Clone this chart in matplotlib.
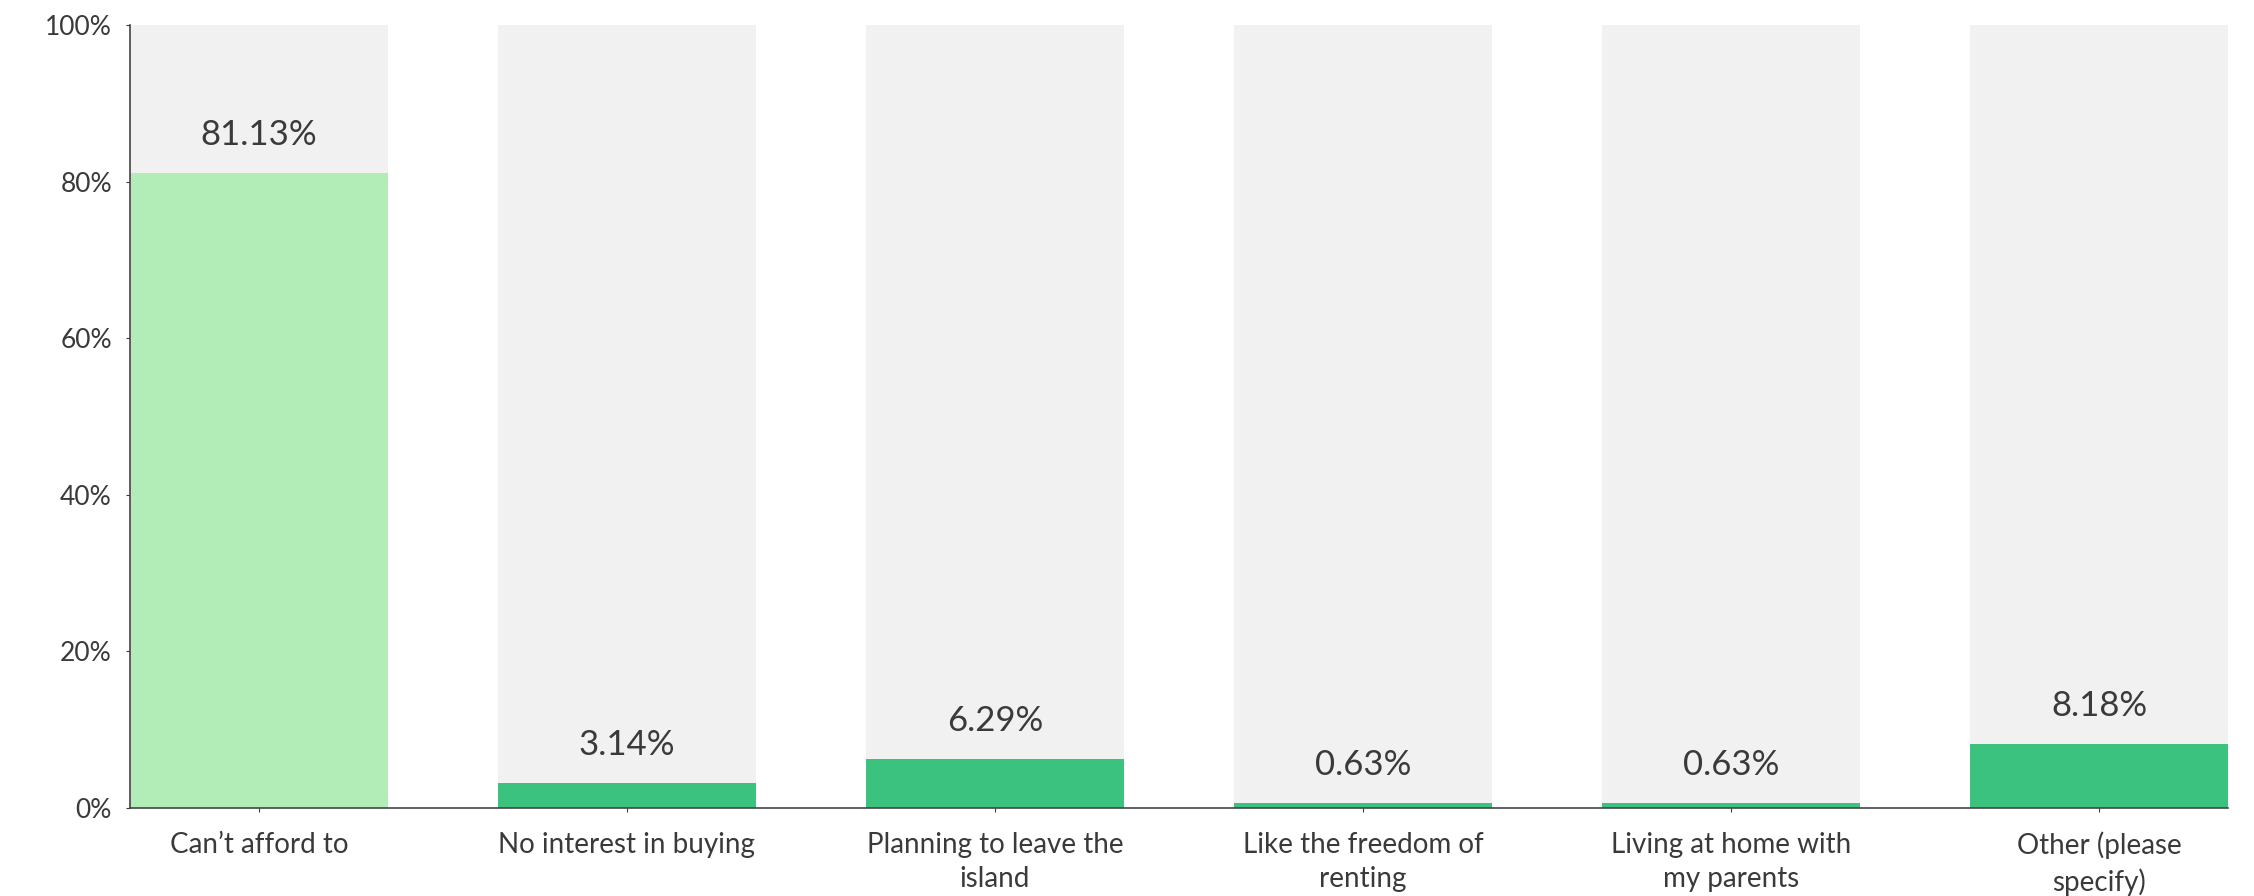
import matplotlib
matplotlib.use('Agg')
import matplotlib.pyplot as plt

plt.rcParams['font.family'] = ['Lato', 'DejaVu Sans']

categories = ["Can\u2019t afford to", "No interest in buying", "Planning to leave the\nisland",
              "Like the freedom of\nrenting", "Living at home with\nmy parents", "Other (please\nspecify)"]
values = [81.13, 3.14, 6.29, 0.63, 0.63, 8.18]
value_labels = ["81.13%", "3.14%", "6.29%", "0.63%", "0.63%", "8.18%"]
bar_colors = ["#b2edb7", "#3ac27e", "#3ac27e", "#3ac27e", "#3ac27e", "#3ac27e"]
yticks = [0, 20, 40, 60, 80, 100]
ytick_labels = ["0%", "20%", "40%", "60%", "80%", "100%"]

text_color = '#3a3a3a'

fig = plt.figure(figsize=(22.54, 8.96), dpi=100)
ax = fig.add_axes([130/2254, 1 - 808/896, (2228 - 130)/2254, (808 - 25)/896])

x = list(range(len(categories)))
ax.bar(x, [100]*len(x), width=0.7, color='#f1f1f1', zorder=1)
ax.bar(x, values, width=0.7, color=bar_colors, zorder=2)

for xi, v, lab in zip(x, values, value_labels):
    ax.annotate(lab, (xi, v), xytext=(0, 38), textcoords='offset pixels',
                ha='center', va='center', fontsize=25, color=text_color)

ax.set_xlim(-0.35, len(x) - 0.65)
ax.set_ylim(0, 100)
ax.set_yticks(yticks)
ax.set_yticklabels(ytick_labels)
ax.set_xticks(x)
ax.set_xticklabels(categories, linespacing=1.4)
ax.tick_params(axis='y', labelsize=19, colors=text_color, length=3, pad=10)
ax.tick_params(axis='x', labelsize=20, colors=text_color, length=3, pad=14)

for s in ['top', 'right']:
    ax.spines[s].set_visible(False)
ax.spines['left'].set_color('#444444')
ax.spines['bottom'].set_color('#444444')
ax.spines['left'].set_linewidth(1.2)
ax.spines['bottom'].set_linewidth(1.2)
ax.spines['left'].set_zorder(3)
ax.spines['bottom'].set_zorder(3)

fig.savefig('out.png', dpi=100)
